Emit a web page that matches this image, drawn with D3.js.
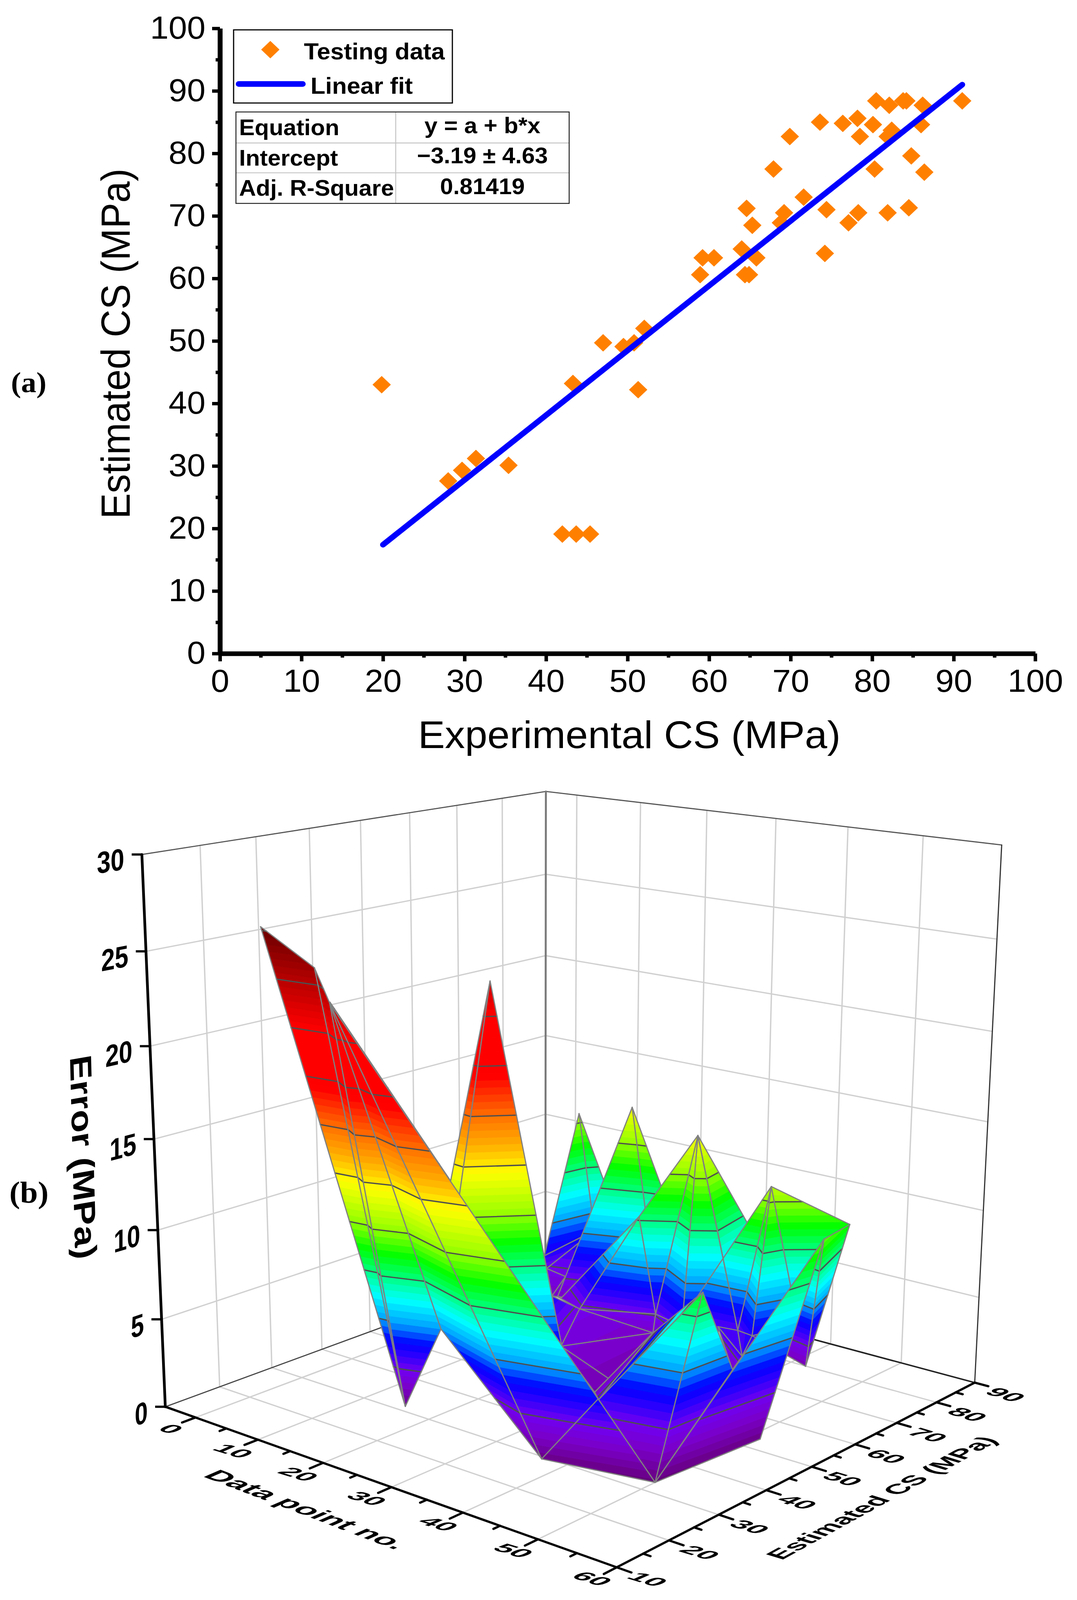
<!DOCTYPE html>
<html>
<head>
<meta charset="utf-8">
<style>
html, body { margin: 0; padding: 0; background: #fff; overflow: hidden; }
svg { display: block; }
text { font-family: "Liberation Sans", Arial, sans-serif; fill: #000; }
</style>
</head>
<body>
<script src="https://d3js.org/d3.v7.min.js"></script>
<script>
// panel (a) data
var expCS = [47.0, 49.5, 50.8, 52.05, 51.3, 59.2, 60.6, 58.9, 64.0, 65.8, 64.4, 64.9, 64.6, 65.3, 69.2, 68.8, 71.6, 74.4, 67.9, 69.9, 73.6, 76.4, 78.2, 80.1, 78.5, 80.5, 82.1, 83.8, 84.2, 86.2, 82.4, 81.9, 86.0, 84.8, 80.3, 86.4, 84.5, 81.9, 78.3, 77.1, 74.2, 91.05, 19.84, 28.0, 29.7, 31.4, 35.4, 43.3, 42.0, 43.7, 45.4];
var estCS = [49.7, 49.1, 49.7, 52.0, 42.2, 63.3, 63.3, 60.6, 64.7, 63.3, 60.6, 60.6, 71.2, 68.5, 70.5, 68.9, 73.0, 71.0, 77.5, 82.7, 85.0, 84.8, 85.6, 84.6, 82.7, 88.4, 87.7, 88.4, 88.4, 87.7, 83.7, 82.7, 84.6, 79.6, 77.5, 77.0, 71.3, 70.5, 70.5, 68.9, 64.0, 88.4, 43.0, 27.6, 29.3, 31.2, 30.1, 43.2, 19.1, 19.1, 19.1];
var fitX = [20, 91.05];
var fitY = [17.4, 91.0];
var tableRows = [["Equation", "y = a + b*x"], ["Intercept", "\u22123.19 \u00b1 4.63"], ["Adj. R-Square", "0.81419"]];

// panel (b) surface vertices: id, data point no., estimated CS, error
var vertexIds = ["TB","K2","KL","P2","PC2","PR2","W0","W0b","W1","A2","P3","PC3","PR3","A3","M1","B4","C","F","P4","Y","H1","D3","D","AL","E","I","RP","P5","V","D2","C5","P6","D4","D6","S2","P7","XL","W","P1","KP1","KP2","E2","T1","T2","T3","V1","V2","B1","RL","B2","RR","P8","S","B3"];
var pointNo = [-3.4,3.6,3.0,0.6,6.6,8.6,5.8,5.2,8.2,8.6,11.1,21.6,28.1,9.7,22.4,11.6,17.7,26.8,25.7,36.8,33.2,38.4,26.7,16.9,22.9,31.2,32.1,39.5,30.0,42.9,45.0,47.1,36.4,45.0,40.5,50.8,38.2,45.7,11.8,18.6,16.6,29.9,-4.5,3.1,7.1,17.0,20.7,38.2,43.5,50.6,41.3,48.1,50.0,52.5];
var surfCS = [41.3,72.1,52.5,90.0,85.0,88.6,74.3,75.7,75.8,72.1,87.1,77.6,79.6,71.8,71.6,69.8,65.2,68.9,80.0,86.8,64.9,69.5,68.5,60.2,53.5,51.6,47.3,74.8,67.9,65.3,72.6,80.8,68.1,59.5,64.9,67.8,75.5,73.5,54.1,35.0,31.7,44.4,29.8,30.7,28.6,29.3,31.7,27.5,31.0,31.9,34.4,45.3,49.0,51.3];
var errorMPa = [20.4,1.5,1.5,10.5,4.05,4.05,3.4,2.4,2.2,1.4,12,1.5,1.5,1.5,7.7,1.8,2.3,2.6,12.1,2,3,2.85,1.5,3.5,1.9,1.2,1,10.8,1.9,3.5,3.6,8.8,3,3.2,1.3,9.56,1.6,1.14,21.8,5.7,2.5,2.5,25.2,23.4,21.9,0.45,5,0.4,3.9,0.2,3.2,8.6,4.2,0.4];
// triangles, listed back to front
var faces = ["TB K2 KL","P2 PC2 PR2","P2 W0 PC2","W0 PC2 W0b","PC2 W1 W0b","W0b W1 A2","W1 A2 A3","P3 PC3 PR3","P3 A3 PC3","A3 B4 C","M1 B4 C","M1 C F","P4 D3 Y","P4 H1 D3","P4 F H1","P4 M1 F","C F D","F D H1","AL C E","C D E","E I D","E I RP","I D RP","RP RR D","P5 V D3","P5 D3 D2","P5 D2 C5","P5 C5 P6","P4 D3 D3","D4 D3 D6","D3 D2 D6","D4 D6 S2","D2 D6 XL","D2 XL C5","P7 XL W","P7 P6 W","P1 KP1 KP2","P1 E2 KP1","RR D P8","RR B2 P8","P8 B2 S","B2 B3 P7","T1 T2 V1","T2 T3 V1","T3 V1 V2","T3 V2 B1","T3 B1 RL","B1 B2 RL"];

var colorStops = [0, 0.3, 1.5, 2.5, 3.5, 4, 5, 6.3, 7.5, 8.7, 10, 12.2, 13.5, 15, 17, 20, 22.5, 25.2];
var colorVals = ["#5a0070","#680080","#7a00c8","#7000f0","#2000ff","#0000ff","#00a0ff","#00ffff","#00ff80","#00ff00","#90ff00","#ffff00","#ffb000","#ff7000","#ff0000","#ff0000","#b80000","#6a0000"];

// the drawing is laid out in the reference's 2757x4287 frame and fitted to the window
var svg = d3.select("body").append("svg")
    .attr("viewBox", "0 0 2757 4287").attr("preserveAspectRatio", "none")
    .attr("width", window.innerWidth).attr("height", window.innerHeight);

// ---------- panel (a) ----------
var x = d3.scaleLinear().domain([0, 100]).range([563, 2650]);
var y = d3.scaleLinear().domain([0, 100]).range([1751, 76]);
var major = d3.range(0, 101, 10), minor = d3.range(5, 100, 10);

function styleAxis(g, w) {
    g.select(".domain").attr("stroke-width", 12);
    g.selectAll(".tick line").attr("stroke-width", w);
    g.selectAll("text").attr("font-size", 85).attr("font-family", '"Liberation Sans"');
}
var gxm = svg.append("g").attr("transform", "translate(0,1751)")
    .call(d3.axisBottom(x).tickValues(minor).tickSize(11).tickSizeOuter(0).tickFormat(""));
styleAxis(gxm, 9);
var gym = svg.append("g").attr("transform", "translate(563,0)")
    .call(d3.axisLeft(y).tickValues(minor).tickSize(11).tickSizeOuter(0).tickFormat(""));
styleAxis(gym, 9);
var gx = svg.append("g").attr("transform", "translate(0,1751)")
    .call(d3.axisBottom(x).tickValues(major).tickSize(21).tickSizeOuter(0).tickPadding(21));
styleAxis(gx, 9);
var gy = svg.append("g").attr("transform", "translate(563,0)")
    .call(d3.axisLeft(y).tickValues(major).tickSize(20).tickSizeOuter(0).tickPadding(17));
styleAxis(gy, 9);

svg.append("text").attr("x", 1611).attr("y", 2004).attr("text-anchor", "middle")
    .attr("font-size", 103).text("Experimental CS (MPa)");
svg.append("text").attr("transform", "translate(332,921) rotate(-90)").attr("text-anchor", "middle")
    .attr("font-size", 103).text("Estimated CS (MPa)");

var diamond = d3.symbol().type(d3.symbolSquare).size(1104);
svg.append("g").selectAll("path").data(expCS).enter().append("path")
    .attr("d", diamond)
    .attr("transform", function (d, i) { return "translate(" + x(d) + "," + y(estCS[i]) + ") rotate(45)"; })
    .attr("fill", "#ff8000");

var fitLine = d3.line().x(function (d) { return x(d); }).y(function (d, i) { return y(fitY[i]); });
svg.append("path").attr("d", fitLine(fitX)).attr("fill", "none").attr("stroke", "#0000ff")
    .attr("stroke-width", 15).attr("stroke-linecap", "round");

// legend
svg.append("rect").attr("x", 598).attr("y", 80).attr("width", 560).attr("height", 196)
    .attr("fill", "#fff").attr("stroke", "#000").attr("stroke-width", 3);
svg.append("path").attr("d", diamond).attr("transform", "translate(692,133) rotate(45)").attr("fill", "#ff8000");
svg.append("line").attr("x1", 611).attr("x2", 775).attr("y1", 225).attr("y2", 225)
    .attr("stroke", "#0000ff").attr("stroke-width", 15).attr("stroke-linecap", "round");
svg.append("text").attr("x", 778).attr("y", 159).attr("font-size", 62).attr("font-weight", "bold").text("Testing data");
svg.append("text").attr("x", 795).attr("y", 251).attr("font-size", 62).attr("font-weight", "bold").text("Linear fit");

// fit table
var tableBase = [362, 444, 524], tableBase2 = [357, 438, 520];
svg.append("g").selectAll("line").data([383, 463]).enter().append("line")
    .attr("x1", 604).attr("x2", 1457).attr("y1", function (d) { return d; }).attr("y2", function (d) { return d; })
    .attr("stroke", "#c4c4c4").attr("stroke-width", 2.5);
svg.append("line").attr("x1", 1013).attr("x2", 1013).attr("y1", 300).attr("y2", 545)
    .attr("stroke", "#c4c4c4").attr("stroke-width", 2.5);
svg.append("rect").attr("x", 604).attr("y", 300).attr("width", 853).attr("height", 245)
    .attr("fill", "none").attr("stroke", "#222").attr("stroke-width", 2.5);
tableRows.forEach(function (r, i) {
    svg.append("text").attr("x", 612).attr("y", tableBase[i]).attr("font-size", 60).attr("font-weight", "bold").text(r[0]);
    svg.append("text").attr("x", 1235).attr("y", tableBase2[i]).attr("font-size", 60).attr("font-weight", "bold")
        .attr("text-anchor", "middle").text(r[1]);
});

svg.append("text").attr("x", 28).attr("y", 1051).attr("font-size", 78).attr("font-weight", "bold")
    .style("font-family", '"Liberation Serif"').text("(a)");
svg.append("text").attr("x", 24).attr("y", 3223).attr("font-size", 82).attr("font-weight", "bold")
    .style("font-family", '"Liberation Serif"').text("(b)");

// ---------- panel (b) ----------
var nx = d3.scaleLinear().domain([-5, 60]).range([0, 1]);
var ny = d3.scaleLinear().domain([10, 90]).range([0, 1]);
var nz = d3.scaleLinear().domain([0, 30]).range([0, 1]);

// camera fitted to where the box corners sit: [x, y, z, screen x, screen y]
var boxCorners = [[-5,10,0,424,3771],[60,10,0,1577,4199],[60,90,0,2496,3704],[-5,90,0,1396,3395],[-5,10,30,364,2288],[-5,90,30,1396,2121],[60,90,30,2565,2265]];

function solve(A, b) {
    var n = b.length, i, j, k;
    A = A.map(function (r, i) { return r.concat(b[i]); });
    for (i = 0; i < n; i++) {
        var m = i;
        for (k = i + 1; k < n; k++) if (Math.abs(A[k][i]) > Math.abs(A[m][i])) m = k;
        var t = A[i]; A[i] = A[m]; A[m] = t;
        for (k = i + 1; k < n; k++) {
            var f = A[k][i] / A[i][i];
            for (j = i; j <= n; j++) A[k][j] -= f * A[i][j];
        }
    }
    var out = [];
    for (i = n - 1; i >= 0; i--) {
        var s = A[i][n];
        for (j = i + 1; j < n; j++) s -= A[i][j] * out[j];
        out[i] = s / A[i][i];
    }
    return out;
}
var M = [], R = [];
boxCorners.forEach(function (c) {
    var X = nx(c[0]), Y = ny(c[1]), Z = nz(c[2]), u = c[3], v = c[4];
    M.push([X, Y, Z, 1, 0, 0, 0, 0, -u * X, -u * Y, -u * Z]); R.push(u);
    M.push([0, 0, 0, 0, X, Y, Z, 1, -v * X, -v * Y, -v * Z]); R.push(v);
});
var ATA = [], ATb = [];
d3.range(11).forEach(function (i) {
    ATA.push(d3.range(11).map(function (j) { return d3.sum(M, function (r) { return r[i] * r[j]; }); }));
    ATb.push(d3.sum(M, function (r, k) { return r[i] * R[k]; }));
});
var cam = solve(ATA, ATb);

function project(px, py, pz) {
    var X = nx(px), Y = ny(py), Z = nz(pz), w = cam[8] * X + cam[9] * Y + cam[10] * Z + 1;
    return [(cam[0] * X + cam[1] * Y + cam[2] * Z + cam[3]) / w, (cam[4] * X + cam[5] * Y + cam[6] * Z + cam[7]) / w];
}
function seg(g, a, b, color, width) {
    var p = project(a[0], a[1], a[2]), q = project(b[0], b[1], b[2]);
    g.append("line").attr("x1", p[0]).attr("y1", p[1]).attr("x2", q[0]).attr("y2", q[1])
        .attr("stroke", color).attr("stroke-width", width).attr("stroke-linecap", "round");
}

var box = svg.append("g");
var gridCol = "#d0d0d0", gridW = 3.5;
var xGrid = d3.range(0, 51, 10), yGrid = d3.range(20, 81, 10), zGrid = d3.range(5, 26, 5);
xGrid.forEach(function (v) { seg(box, [v, 90, 0], [v, 90, 30], gridCol, gridW); });
yGrid.forEach(function (v) { seg(box, [-5, v, 0], [-5, v, 30], gridCol, gridW); });
zGrid.forEach(function (v) {
    seg(box, [-5, 10, v], [-5, 90, v], gridCol, gridW);
    seg(box, [-5, 90, v], [60, 90, v], gridCol, gridW);
});
d3.range(0, 61, 10).forEach(function (v) { seg(box, [v, 10, 0], [v, 90, 0], gridCol, gridW); });
d3.range(10, 91, 10).forEach(function (v) { seg(box, [-5, v, 0], [60, v, 0], gridCol, gridW); });
// box frame
seg(box, [-5, 10, 30], [-5, 90, 30], "#555", 3);
seg(box, [-5, 90, 30], [60, 90, 30], "#555", 3);
seg(box, [60, 90, 0], [60, 90, 30], "#333", 3);
seg(box, [-5, 90, 0], [-5, 90, 30], "#7a7a7a", 5);
seg(box, [-5, 10, 0], [-5, 90, 0], "#444", 3);
seg(box, [-5, 90, 0], [60, 90, 0], "#222", 4);

// axes
var axes = svg.append("g");
seg(axes, [-5, 10, 0], [-5, 10, 30], "#000", 7);
seg(axes, [-5, 10, 0], [60, 10, 0], "#000", 6);
seg(axes, [60, 10, 0], [60, 90, 0], "#000", 6);

d3.range(0, 31, 5).forEach(function (v) {
    var p = project(-5, 10, v);
    axes.append("line").attr("x1", p[0] - 26).attr("x2", p[0]).attr("y1", p[1]).attr("y2", p[1])
        .attr("stroke", "#000").attr("stroke-width", 6);
    var a = project(-5, 10, v), b = project(-5, 14, v);
    var L = Math.hypot(b[0] - a[0], b[1] - a[1]);
    axes.append("text").attr("text-anchor", "end").attr("font-size", 64).attr("font-weight", "bold")
        .attr("transform", "matrix(" + [(b[0] - a[0]) / L, (b[1] - a[1]) / L, 0, 1.28, p[0] - 45, p[1] + 40].join(",") + ")")
        .text(v);
});

// texts lying in the floor plane; tilt (degrees) turns the baseline a little
function floorText(g, str, cx, cy, size, vScale, baseDir, tilt) {
    var a = project(30, 50, 0), b = project(31, 50, 0), c = project(30, 51, 0);
    var ux = b[0] - a[0], uy = b[1] - a[1], Lu = Math.hypot(ux, uy);
    var vx = c[0] - a[0], vy = c[1] - a[1], Lv = Math.hypot(vx, vy);
    ux /= Lu; uy /= Lu; vx /= Lv; vy /= Lv;
    var bx = baseDir == "x" ? ux : vx, by = baseDir == "x" ? uy : vy;
    var upx = baseDir == "x" ? -vx : ux, upy = baseDir == "x" ? -vy : uy;
    var t = (tilt || 0) * Math.PI / 180, co = Math.cos(t), si = Math.sin(t);
    var mat = [bx * co - by * si, bx * si + by * co, upx * vScale, upy * vScale, cx, cy];
    g.append("text").attr("text-anchor", "middle").attr("dy", ".36em")
        .attr("font-size", size).attr("font-weight", "bold")
        .attr("transform", "matrix(" + mat.join(",") + ")").text(str);
}
d3.range(0, 61, 5).forEach(function (v) {
    var isMajor = v % 10 == 0;
    seg(axes, [v, 10, 0], [v, 10 - (isMajor ? 2.4 : 1.2), 0], "#000", 6);
    if (isMajor) {
        var p = project(v, 10, 0);
        floorText(axes, v, p[0] - 62, p[1] + 30, 74, 0.78, "x", 0);
    }
});
d3.range(10, 91, 5).forEach(function (v) {
    var isMajor = v % 10 == 0;
    seg(axes, [60, v, 0], [60 + (isMajor ? 1.8 : 0.9), v, 0], "#000", 6);
    if (isMajor) {
        var p = project(60, v, 0);
        floorText(axes, v, p[0] + 80, p[1] + 32, 74, 0.78, "x", 0);
    }
});
floorText(axes, "Data point no.", 787, 4044, 80, 0.85, "x", 4);
floorText(axes, "Estimated CS (MPa)", 2256, 4013, 68, 0.98, "y", -5.5);
axes.append("text").attr("text-anchor", "middle").attr("font-size", 100).attr("font-weight", "bold")
    .attr("transform", "matrix(0.025,1,-0.78,0.14,186,3105)").text("Error (MPa)");

// surface
var vertex = {};
vertexIds.forEach(function (id, i) { vertex[id] = [pointNo[i], surfCS[i], errorMPa[i]]; });
var errColor = d3.scaleLinear().domain(colorStops).range(colorVals).interpolate(d3.interpolateRgb);
var bandStep = 2.5 / 7, bandLevels = d3.range(0, 26, bandStep), contourLevels = d3.range(2.5, 25.1, 2.5);

function lerp(a, b, t) { return [a[0] + (b[0] - a[0]) * t, a[1] + (b[1] - a[1]) * t, a[2] + (b[2] - a[2]) * t]; }
// keep the part of a polygon on one side of an error level
function clipLevel(poly, level, keepAbove) {
    var out = [];
    poly.forEach(function (p, i) {
        var q = poly[(i + 1) % poly.length];
        var pin = keepAbove ? p[2] >= level : p[2] <= level;
        var qin = keepAbove ? q[2] >= level : q[2] <= level;
        if (pin) out.push(p);
        if (pin != qin) out.push(lerp(p, q, (level - p[2]) / (q[2] - p[2])));
    });
    return out;
}
var polyPath = d3.line().x(function (d) { return d[0]; }).y(function (d) { return d[1]; }).curve(d3.curveLinearClosed);
var surface = svg.append("g").attr("stroke-linejoin", "round");
faces.forEach(function (f) {
    var ids = f.split(" "), tri = ids.map(function (id) { return vertex[id]; });
    var g = surface.append("g");
    var flat = ids[0] == ids[1] || ids[1] == ids[2] || ids[0] == ids[2];
    if (!flat) {
        bandLevels.forEach(function (lo) {
            var hi = lo + bandStep;
            var poly = clipLevel(clipLevel(tri, lo, true), hi, false);
            if (poly.length < 3) return;
            var col = errColor(lo + bandStep / 2);
            g.append("path").attr("d", polyPath(poly.map(function (p) { return project(p[0], p[1], p[2]); })))
                .attr("fill", col).attr("stroke", col).attr("stroke-width", 1.2);
        });
        contourLevels.forEach(function (lev) {
            var pts = [];
            tri.forEach(function (p, i) {
                var q = tri[(i + 1) % 3];
                if ((p[2] - lev) * (q[2] - lev) < 0) pts.push(lerp(p, q, (lev - p[2]) / (q[2] - p[2])));
            });
            if (pts.length == 2) seg(g, pts[0], pts[1], "#4f4f4f", 3.5);
        });
    }
    tri.forEach(function (p, i) { seg(g, p, tri[(i + 1) % 3], "#808080", 3); });
});
</script>
</body>
</html>
